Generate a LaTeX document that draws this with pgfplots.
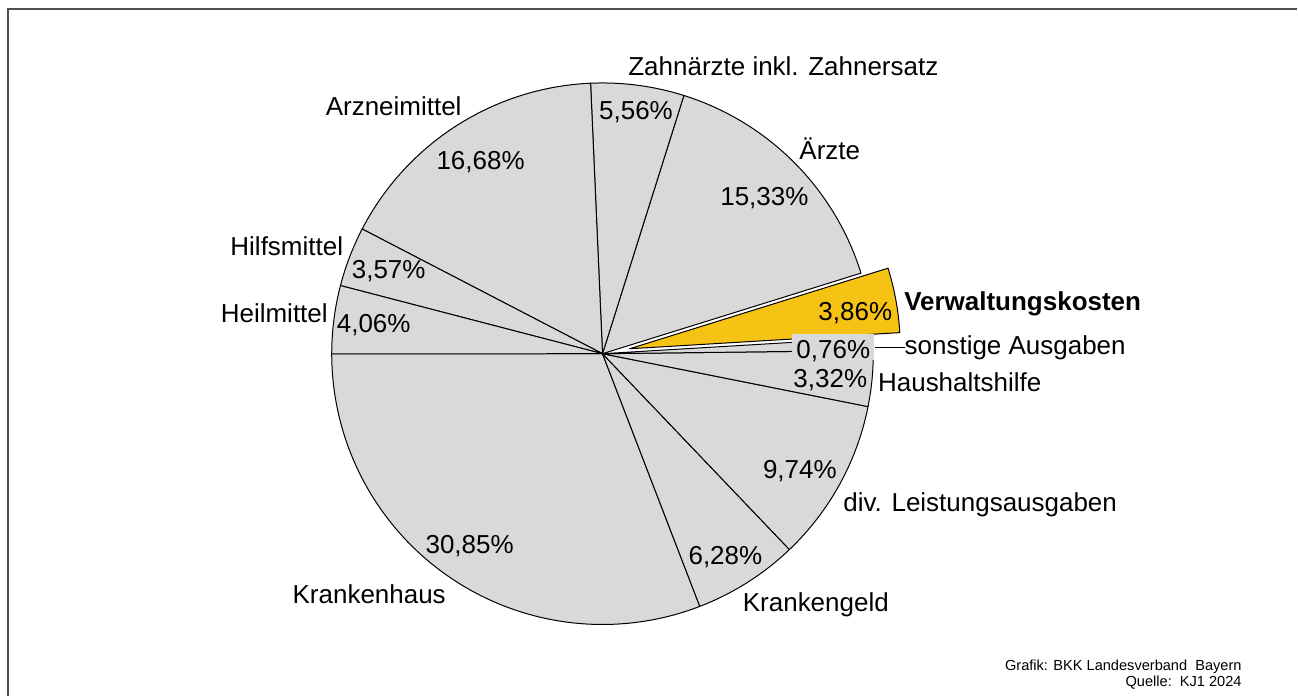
\documentclass[border=0pt]{standalone}
\usepackage{pgfplots}
\pgfplotsset{compat=1.18}
\usepackage{pgfplotstable}
\usepackage{fontspec}
\setmainfont{Liberation Sans}
\definecolor{piegray}{HTML}{D9D9D9}
\definecolor{pieyellow}{HTML}{F6C315}
\definecolor{framegray}{HTML}{505050}

% slices in drawing order, counter-clockwise starting at 180 degrees
% value = share in percent, explode = offset in pt
\pgfplotstableread{
name              value explode colour
Krankenhaus       30.85 0       piegray
Krankengeld       6.28  0       piegray
divLeistung       9.74  0       piegray
Haushaltshilfe    3.32  0       piegray
sonstige          0.76  0       piegray
Verwaltung        3.86  13.75   pieyellow
Aerzte            15.33 0       piegray
Zahnaerzte        5.56  0       piegray
Arzneimittel      16.68 0       piegray
Hilfsmittel       3.57  0       piegray
Heilmittel        4.06  0       piegray
}\piedata

\newcommand\lblfont{\fontsize{13pt}{15pt}\selectfont}
\newcommand\ftfont{\fontsize{7.3pt}{8.5pt}\selectfont}
\tikzset{
  lbl/.style={font=\lblfont, inner sep=0pt, text height=9.3pt, text depth=0pt, anchor=center},
  ft/.style={font=\ftfont, inner sep=0pt, text height=5.2pt, text depth=0pt, anchor=east},
}

\begin{document}
\begin{tikzpicture}
\begin{axis}[
  x=0.5pt, y=0.5pt,
  xmin=0, xmax=1298, ymin=0, ymax=697,
  y dir=reverse,
  hide axis, clip=false,
]
\path (axis cs:0,0) rectangle (axis cs:1298,697);
% frame
\draw[framegray, line width=1.1pt] (axis cs:8,697) -- (axis cs:8,9) -- (axis cs:1298,9);

% pie slices from the table
\gdef\cumangle{180}
\pgfplotsforeachungrouped \i in {0,1,2,3,4,5,6,7,8,9,10}{%
  \pgfplotstablegetelem{\i}{value}\of\piedata \let\val\pgfplotsretval
  \pgfplotstablegetelem{\i}{explode}\of\piedata \let\expl\pgfplotsretval
  \pgfplotstablegetelem{\i}{colour}\of\piedata \let\col\pgfplotsretval
  \pgfmathsetmacro\angA{\cumangle}%
  \pgfmathsetmacro\angB{\cumangle+3.6*\val}%
  \pgfmathsetmacro\angM{(\angA+\angB)/2}%
  \edef\temp{\noexpand\filldraw[fill=\col, draw=black, line width=0.5pt, line join=round]
    ([shift={(\angM:\expl pt)}]axis cs:603,354) -- ++(\angA:135.5pt)
    arc[start angle=\angA, end angle=\angB, radius=135.5pt] -- cycle;}%
  \temp
  \xdef\cumangle{\angB}%
}

% labels
\node[lbl] at (axis cs:784,66.5) {Zahnärzte inkl. Zahnersatz};
\node[lbl] at (axis cs:636.5,110.5) {5,56\%};
\node[lbl] at (axis cs:394,106) {Arzneimittel};
\node[lbl] at (axis cs:481,160) {16,68\%};
\node[lbl] at (axis cs:830.5,150) {Ärzte};
\node[lbl] at (axis cs:765,196) {15,33\%};
\node[lbl] at (axis cs:287,246.5) {Hilfsmittel};
\node[lbl] at (axis cs:389,269) {3,57\%};
\node[lbl] at (axis cs:274.5,313.5) {Heilmittel};
\node[lbl] at (axis cs:374,323.5) {4,06\%};
\node[lbl, font=\lblfont\bfseries] at (axis cs:1023.5,301) {Verwaltungskosten};
\node[lbl] at (axis cs:856,311) {3,86\%};
\draw[black, line width=0.5pt] (axis cs:876,348) -- (axis cs:906,348);
\node[lbl, fill=piegray, inner xsep=2pt, text height=11.8pt, text depth=1pt] at (axis cs:834,347.5) {0,76\%};
\node[lbl] at (axis cs:1016,345.5) {sonstige Ausgaben};
\node[lbl] at (axis cs:831,379) {3,32\%};
\node[lbl] at (axis cs:960.5,382.5) {Haushaltshilfe};
\node[lbl] at (axis cs:800.5,469.5) {9,74\%};
\node[lbl] at (axis cs:981,502.5) {div. Leistungsausgaben};
\node[lbl] at (axis cs:470,545) {30,85\%};
\node[lbl] at (axis cs:369.5,595) {Krankenhaus};
\node[lbl] at (axis cs:726,556) {6,28\%};
\node[lbl] at (axis cs:816.5,603) {Krankengeld};

% footer
\node[ft] at (axis cs:1243,665.5) {Grafik: BKK Landesverband\ \ Bayern};
\node[ft] at (axis cs:1243,682) {Quelle:\ \ KJ1 2024};
\end{axis}
\end{tikzpicture}
\end{document}
